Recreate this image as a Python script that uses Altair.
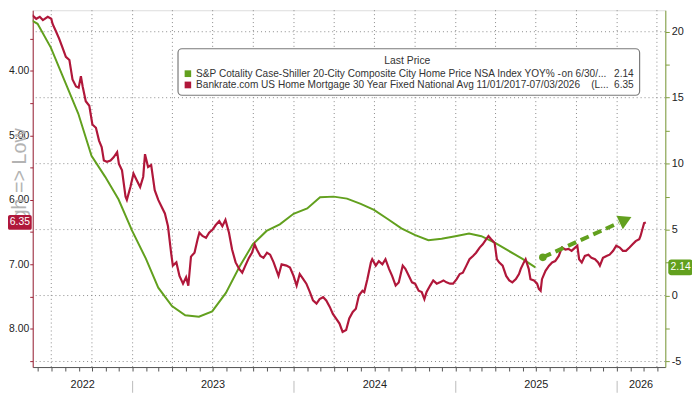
import altair as alt
import pandas as pd

FONT = "Liberation Sans"
RED = "#b0173a"
GREEN = "#62a01e"
RED_AXIS = "#9e2338"
GREEN_AXIS = "#7f9f3c"
GRID = "#8a8a8a"

# ---------------- data ----------------
red_points = [
    ("2022-05-07", 3.10), ("2022-05-13", 3.16), ("2022-05-20", 3.14), ("2022-05-28", 3.19),
    ("2022-06-05", 3.16), ("2022-06-12", 3.21), ("2022-06-23", 3.16), ("2022-07-01", 3.19),
    ("2022-07-04", 3.27), ("2022-07-12", 3.39), ("2022-07-19", 3.50), ("2022-07-27", 3.65),
    ("2022-08-03", 3.78), ("2022-08-11", 3.83), ("2022-08-14", 3.96), ("2022-08-18", 4.13),
    ("2022-08-26", 4.24), ("2022-09-01", 4.26), ("2022-09-06", 4.08), ("2022-09-10", 4.24),
    ("2022-09-17", 4.47), ("2022-09-25", 4.54), ("2022-10-02", 4.83), ("2022-10-10", 4.88),
    ("2022-10-17", 5.08), ("2022-10-23", 5.18), ("2022-10-28", 5.39), ("2022-11-04", 5.41),
    ("2022-11-12", 5.39), ("2022-11-19", 5.34), ("2022-11-27", 5.26), ("2022-12-01", 5.44),
    ("2022-12-08", 5.54), ("2022-12-16", 5.95), ("2022-12-19", 6.00), ("2022-12-27", 5.80),
    ("2023-01-03", 5.59), ("2023-01-10", 5.69), ("2023-01-18", 5.80), ("2023-01-25", 5.64),
    ("2023-01-29", 5.29), ("2023-02-05", 5.49), ("2023-02-12", 5.46), ("2023-02-20", 5.85),
    ("2023-02-28", 6.00), ("2023-03-07", 6.10), ("2023-03-15", 6.21), ("2023-03-22", 6.41),
    ("2023-03-29", 6.82), ("2023-04-02", 7.02), ("2023-04-10", 6.97), ("2023-04-17", 7.18),
    ("2023-04-25", 7.30), ("2023-05-02", 7.20), ("2023-05-07", 7.33), ("2023-05-13", 6.88),
    ("2023-05-21", 6.82), ("2023-05-28", 6.61), ("2023-06-01", 6.51), ("2023-06-08", 6.56),
    ("2023-06-16", 6.59), ("2023-06-23", 6.51), ("2023-07-01", 6.46), ("2023-07-08", 6.39),
    ("2023-07-16", 6.33), ("2023-07-23", 6.41), ("2023-07-30", 6.31), ("2023-08-07", 6.51),
    ("2023-08-14", 6.77), ("2023-08-22", 6.97), ("2023-08-30", 7.07), ("2023-09-06", 7.13),
    ("2023-09-13", 7.02), ("2023-09-21", 6.90), ("2023-09-28", 6.82), ("2023-10-04", 6.69),
    ("2023-10-09", 6.77), ("2023-10-17", 6.87), ("2023-10-24", 6.90), ("2023-11-01", 6.82),
    ("2023-11-08", 6.85), ("2023-11-16", 6.97), ("2023-11-27", 7.18), ("2023-12-04", 7.00),
    ("2023-12-15", 7.02), ("2023-12-23", 7.05), ("2023-12-31", 7.18), ("2024-01-07", 7.33),
    ("2024-01-14", 7.15), ("2024-01-22", 7.23), ("2024-01-29", 7.30), ("2024-02-06", 7.43),
    ("2024-02-13", 7.56), ("2024-02-21", 7.61), ("2024-02-28", 7.54), ("2024-03-07", 7.51),
    ("2024-03-14", 7.56), ("2024-03-22", 7.66), ("2024-03-29", 7.77), ("2024-04-05", 7.84),
    ("2024-04-13", 7.92), ("2024-04-20", 8.05), ("2024-04-28", 8.02), ("2024-05-05", 7.84),
    ("2024-05-13", 7.74), ("2024-05-20", 7.69), ("2024-05-27", 7.48), ("2024-06-04", 7.41),
    ("2024-06-08", 7.43), ("2024-06-15", 7.23), ("2024-06-23", 6.97), ("2024-06-26", 6.92),
    ("2024-07-04", 7.02), ("2024-07-11", 6.95), ("2024-07-19", 7.00), ("2024-07-26", 6.92),
    ("2024-08-03", 7.07), ("2024-08-10", 7.18), ("2024-08-18", 7.33), ("2024-08-25", 7.28),
    ("2024-09-03", 7.02), ("2024-09-09", 7.07), ("2024-09-17", 7.18), ("2024-09-24", 7.28),
    ("2024-10-01", 7.30), ("2024-10-09", 7.41), ("2024-10-16", 7.43), ("2024-10-22", 7.54),
    ("2024-10-27", 7.43), ("2024-11-04", 7.33), ("2024-11-11", 7.25), ("2024-11-19", 7.30),
    ("2024-11-26", 7.28), ("2024-12-04", 7.25), ("2024-12-11", 7.28), ("2024-12-19", 7.30),
    ("2024-12-26", 7.30), ("2025-01-03", 7.23), ("2025-01-10", 7.15), ("2025-01-17", 7.13),
    ("2025-01-25", 7.02), ("2025-02-01", 6.92), ("2025-02-09", 6.87), ("2025-02-16", 6.82),
    ("2025-02-24", 6.74), ("2025-03-03", 6.69), ("2025-03-11", 6.61), ("2025-03-16", 6.56),
    ("2025-03-22", 6.61), ("2025-03-30", 6.67), ("2025-04-04", 6.92), ("2025-04-09", 6.97),
    ("2025-04-17", 7.02), ("2025-04-25", 7.18), ("2025-05-02", 7.25), ("2025-05-09", 7.28),
    ("2025-05-17", 7.23), ("2025-05-24", 7.15), ("2025-05-28", 7.07), ("2025-06-04", 6.97),
    ("2025-06-08", 6.92), ("2025-06-15", 7.07), ("2025-06-19", 7.23), ("2025-06-27", 7.25),
    ("2025-07-04", 7.30), ("2025-07-08", 7.38), ("2025-07-12", 7.41), ("2025-07-15", 7.23),
    ("2025-07-23", 7.10), ("2025-07-31", 7.02), ("2025-08-07", 6.97), ("2025-08-14", 6.95),
    ("2025-08-22", 6.87), ("2025-08-29", 6.74), ("2025-09-06", 6.77), ("2025-09-13", 6.76),
    ("2025-09-20", 6.79), ("2025-09-28", 6.74), ("2025-10-03", 6.71), ("2025-10-07", 6.92),
    ("2025-10-13", 6.97), ("2025-10-20", 6.87), ("2025-10-28", 6.85), ("2025-11-04", 6.90),
    ("2025-11-12", 6.92), ("2025-11-19", 6.97), ("2025-11-23", 7.02), ("2025-11-30", 6.90),
    ("2025-12-08", 6.87), ("2025-12-15", 6.85), ("2025-12-23", 6.79), ("2025-12-30", 6.71),
    ("2026-01-07", 6.74), ("2026-01-14", 6.79), ("2026-01-21", 6.79), ("2026-01-29", 6.74),
    ("2026-02-05", 6.69), ("2026-02-12", 6.64), ("2026-02-20", 6.61), ("2026-02-23", 6.56),
    ("2026-02-27", 6.46), ("2026-03-03", 6.36), ("2026-03-07", 6.35),
]
red_dates = [d for d, _ in red_points]
red_values = [v for _, v in red_points]

green_dates = [
    "2022-04-30", "2022-05-31", "2022-06-30", "2022-07-31", "2022-08-31", "2022-09-30",
    "2022-10-31", "2022-11-30", "2022-12-31", "2023-01-31", "2023-02-28", "2023-03-31",
    "2023-04-30", "2023-05-31", "2023-06-30", "2023-07-31", "2023-08-31", "2023-09-30",
    "2023-10-31", "2023-11-30", "2023-12-31", "2024-01-31", "2024-02-29", "2024-03-31",
    "2024-04-30", "2024-05-31", "2024-06-30", "2024-07-31", "2024-08-31", "2024-09-30",
    "2024-10-31", "2024-11-30", "2024-12-31", "2025-01-31", "2025-02-28", "2025-03-31",
    "2025-04-30", "2025-05-31", "2025-06-30",
]
green_values = [
    21.2, 20.6, 18.8, 16.3, 13.8, 10.6,
    9.0, 7.3, 4.9, 2.8, 0.6, -0.8,
    -1.5, -1.6, -1.2, 0.2, 2.2, 3.9,
    4.9, 5.4, 6.2, 6.6, 7.45, 7.5,
    7.35, 6.95, 6.5, 5.8, 5.1, 4.6,
    4.2, 4.3, 4.5, 4.7, 4.5, 4.0,
    3.4, 2.8, 2.14,
]

legend_title = "Last Price"
legend_labels = [
    "S&P Cotality Case-Shiller 20-City Composite City Home Price NSA Index YOY% -",
    "Bankrate.com US Home Mortgage 30 Year Fixed National Avg 11/01/2017-07/03/2026",
]
legend_suffix = ["on 6/30/...", "(L..."]
legend_values = ["2.14", "6.35"]
last_red = "6.35"
last_green = "2.14"
watermark = "gh => Low"

year_labels = ["2022", "2023", "2024", "2025", "2026"]
left_ticks = [3.5, 4.0, 4.5, 5.0, 5.5, 6.0, 6.5, 7.0, 7.5, 8.0, 8.5]
right_ticks = [-5, -2.5, 0, 2.5, 5, 7.5, 10, 12.5, 15, 17.5, 20]
right_grid = [-5, 0, 5, 10, 15, 20]
quarter_lines = [
    "2022-07-01", "2022-10-01", "2023-01-01", "2023-04-01", "2023-07-01", "2023-10-01",
    "2024-01-01", "2024-04-01", "2024-07-01", "2024-10-01", "2025-01-01", "2025-04-01",
    "2025-07-01", "2025-10-01", "2026-01-01", "2026-04-01",
]
year_starts = ["2023-01-01", "2024-01-01", "2025-01-01", "2026-01-01"]

arrow_dates = ["2025-07-17", "2026-01-05"]
arrow_values = [2.90, 5.52]
head_date = "2026-01-20"
head_value = 5.75

# ---------------- layout ----------------
W, H = 640, 361
X_START, X_END = "2022-05-20", "2026-04-20"
LEFT_DOMAIN = [3.057, 8.594]
RIGHT_DOMAIN = [-5.42, 21.63]


def ms(s):
    return int(pd.Timestamp(s, tz="UTC").value // 10**6)


month_ticks = [ms(d) for d in pd.date_range("2022-06-01", "2026-04-01", freq="MS")]

X = alt.X(
    "date:T",
    scale=alt.Scale(type="utc", domain=[ms(X_START), ms(X_END)]),
    axis=alt.Axis(values=month_ticks, labels=False, tickSize=4, tickColor="#555",
                  domainColor="#555", grid=False, title=None),
)
left_scale = alt.Scale(domain=LEFT_DOMAIN, reverse=True, nice=False, zero=False)
right_scale = alt.Scale(domain=RIGHT_DOMAIN, nice=False, zero=False)

red_df = pd.DataFrame({"date": red_dates, "v": red_values})
green_df = pd.DataFrame({"date": green_dates, "v": green_values})

vgrid = alt.Chart(pd.DataFrame({"date": quarter_lines})).mark_rule(
    color=GRID, strokeDash=[1, 3], strokeWidth=1).encode(x=X)

hgrid = alt.Chart(pd.DataFrame({"v": right_grid})).mark_rule(
    color=GRID, strokeDash=[1, 3], strokeWidth=1).encode(
    y=alt.Y("v:Q", scale=right_scale, axis=None))

green_line = alt.Chart(green_df).mark_line(color=GREEN, strokeWidth=2, clip=True).encode(
    x=X,
    y=alt.Y("v:Q", scale=right_scale, axis=alt.Axis(
        orient="right", values=right_ticks,
        labelExpr="datum.value % 5 === 0 ? '' + datum.value : ''",
        domainColor=GREEN_AXIS, tickColor=GREEN_AXIS, tickSize=4, labelPadding=2,
        labelColor="#222", labelFont=FONT, labelFontSize=11, grid=False, title=None)),
)

red_line = alt.Chart(red_df).mark_line(color=RED, strokeWidth=2.2, clip=True).encode(
    x=X,
    y=alt.Y("v:Q", scale=left_scale, axis=alt.Axis(
        orient="left", values=left_ticks,
        labelExpr="datum.value % 1 === 0 ? format(datum.value, '.2f') : ''",
        domainColor=RED_AXIS, tickColor=RED_AXIS, tickSize=3, labelPadding=1,
        labelColor="#222", labelFont=FONT, labelFontSize=10.5, grid=False, title=None)),
)

arrow_line = alt.Chart(pd.DataFrame({"date": arrow_dates, "v": arrow_values})).mark_line(
    color=GREEN, strokeWidth=4, strokeDash=[9, 5]).encode(
    x=X, y=alt.Y("v:Q", scale=right_scale, axis=None))
arrow_dot = alt.Chart(pd.DataFrame({"date": arrow_dates[:1], "v": arrow_values[:1]})).mark_circle(
    color=GREEN, size=60, opacity=1).encode(
    x=X, y=alt.Y("v:Q", scale=right_scale, axis=None))
arrow_head = alt.Chart(pd.DataFrame({"date": [head_date], "v": [head_value]})).mark_point(
    shape="triangle-right", filled=True, color=GREEN, size=230, angle=335, opacity=1).encode(
    x=X, y=alt.Y("v:Q", scale=right_scale, axis=None))

years = []
x0, x1 = pd.Timestamp(X_START), pd.Timestamp(X_END)
for y in year_labels:
    a = max(pd.Timestamp(f"{y}-01-01"), x0)
    b = min(pd.Timestamp(f"{int(y) + 1}-01-01"), x1)
    years.append((a + (b - a) / 2).strftime("%Y-%m-%d"))
year_text = alt.Chart(pd.DataFrame({"date": years, "year": year_labels})).mark_text(
    font=FONT, fontSize=11, color="#222", baseline="middle").encode(
    x=X, y=alt.value(379), text="year:N")
year_sep = alt.Chart(pd.DataFrame({"date": year_starts})).mark_rule(
    color="#bbbbbb", strokeWidth=1).encode(x=X, y=alt.value(375), y2=alt.value(387))

one = pd.DataFrame({"k": [0]})

# legend box
box = alt.Chart(one).mark_rect(fill="white", stroke="#7a7a7a", strokeWidth=1.2,
                               cornerRadius=4).encode(
    x=alt.value(147), x2=alt.value(614), y=alt.value(39), y2=alt.value(86))
title_txt = alt.Chart(one).mark_text(font=FONT, fontSize=10.5, color="#333",
                                     baseline="middle", align="center").encode(
    x=alt.value(379), y=alt.value(51), text=alt.value(legend_title))
legend_layers = [box, title_txt]
row_y = [64.2, 75.6]
row_colors = [GREEN, RED]
suffix_x = [535, 565]
for i in range(2):
    legend_layers.append(alt.Chart(one).mark_rect(color=row_colors[i]).encode(
        x=alt.value(153.7), x2=alt.value(160.3), y=alt.value(row_y[i] - 3.4),
        y2=alt.value(row_y[i] + 3.4)))
    legend_layers.append(alt.Chart(one).mark_text(
        font=FONT, fontSize=10.2, color="#333", baseline="middle", align="left").encode(
        x=alt.value(165.3), y=alt.value(row_y[i]), text=alt.value(legend_labels[i])))
    legend_layers.append(alt.Chart(one).mark_text(
        font=FONT, fontSize=10.2, color="#333", baseline="middle", align="left").encode(
        x=alt.value(suffix_x[i]), y=alt.value(row_y[i]), text=alt.value(legend_suffix[i])))
    legend_layers.append(alt.Chart(one).mark_text(
        font=FONT, fontSize=10.2, color="#333", baseline="middle", align="right").encode(
        x=alt.value(608), y=alt.value(row_y[i]), text=alt.value(legend_values[i])))

# last-value tags
y_red_tag = (float(last_red) - LEFT_DOMAIN[0]) / (LEFT_DOMAIN[1] - LEFT_DOMAIN[0]) * H
y_green_tag = (RIGHT_DOMAIN[1] - float(last_green)) / (RIGHT_DOMAIN[1] - RIGHT_DOMAIN[0]) * H
red_tag = alt.Chart(one).mark_rect(color=RED, cornerRadius=2).encode(
    x=alt.value(-25), x2=alt.value(-1), y=alt.value(y_red_tag - 7.5), y2=alt.value(y_red_tag + 7.5))
red_tag_txt = alt.Chart(one).mark_text(font=FONT, fontSize=10.5, color="white",
                                       baseline="middle", align="center").encode(
    x=alt.value(-13), y=alt.value(y_red_tag), text=alt.value(last_red))
green_tag = alt.Chart(one).mark_rect(color=GREEN, cornerRadius=3).encode(
    x=alt.value(643), x2=alt.value(668), y=alt.value(y_green_tag - 8), y2=alt.value(y_green_tag + 8))
green_tag_txt = alt.Chart(one).mark_text(font=FONT, fontSize=10.5, color="white",
                                         baseline="middle", align="center").encode(
    x=alt.value(655.5), y=alt.value(y_green_tag), text=alt.value(last_green))

wm = alt.Chart(one).mark_text(font=FONT, fontSize=20, color="#b3b3b3", angle=270,
                              baseline="middle", align="center").encode(
    x=alt.value(-13), y=alt.value(166), text=alt.value(watermark))

chart = alt.layer(
    vgrid, hgrid, green_line, red_line, arrow_line, arrow_dot, arrow_head,
    year_sep, year_text, *legend_layers, wm, red_tag, red_tag_txt, green_tag, green_tag_txt,
).resolve_scale(y="independent").properties(
    width=W, height=H,
    padding={"left": 25, "top": 0, "right": 27, "bottom": 25},
    autosize=alt.AutoSizeParams(type="none"),
    background="white",
).configure_view(stroke=None).configure(font=FONT)

chart.save("out.html", embed_options={"renderer": "svg", "actions": False})
